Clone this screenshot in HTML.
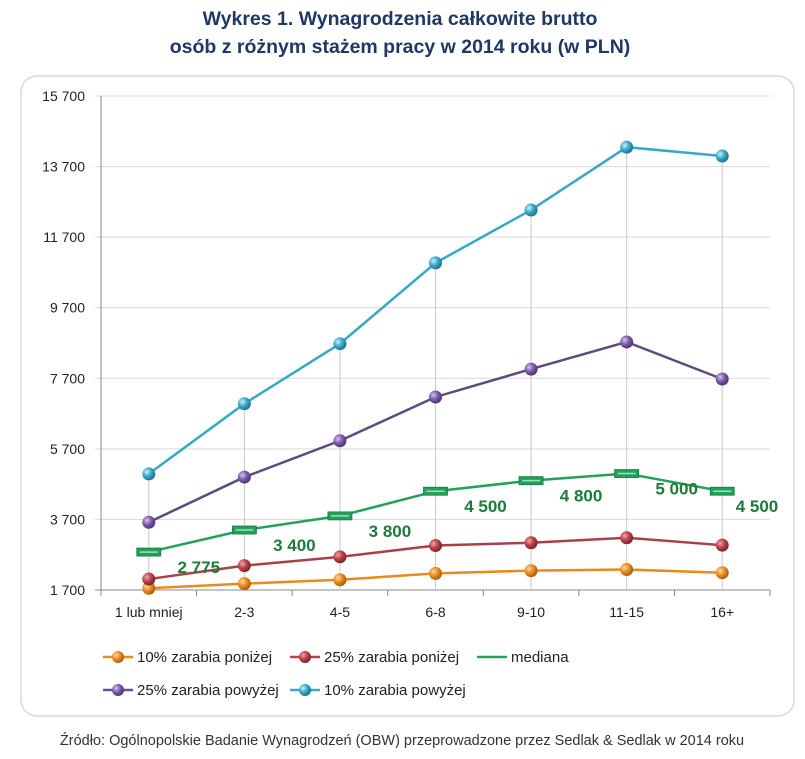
<!DOCTYPE html>
<html><head><meta charset="utf-8"><style>
body{margin:0;background:#fff;}
svg text{font-family:"Liberation Sans",sans-serif;}
</style></head><body>
<svg id="c" width="805" height="754" xmlns="http://www.w3.org/2000/svg">
<defs>
<radialGradient id="gOr" cx="35%" cy="35%" r="70%"><stop offset="0" stop-color="#ffd9a0"/><stop offset="0.5" stop-color="#e98a1e"/><stop offset="1" stop-color="#a8560a"/></radialGradient>
<radialGradient id="gRd" cx="35%" cy="35%" r="70%"><stop offset="0" stop-color="#f0a8a8"/><stop offset="0.5" stop-color="#b9404a"/><stop offset="1" stop-color="#7a1e26"/></radialGradient>
<radialGradient id="gPu" cx="35%" cy="35%" r="70%"><stop offset="0" stop-color="#d4c2ef"/><stop offset="0.5" stop-color="#7a5aab"/><stop offset="1" stop-color="#4a306e"/></radialGradient>
<radialGradient id="gCy" cx="35%" cy="35%" r="70%"><stop offset="0" stop-color="#c8f1fb"/><stop offset="0.5" stop-color="#38a8c8"/><stop offset="1" stop-color="#1c6e88"/></radialGradient>
</defs>
<text x="400" y="25" text-anchor="middle" font-size="19.5" font-weight="bold" fill="#1f3864">Wykres 1. Wynagrodzenia całkowite brutto</text>
<text x="400" y="53" text-anchor="middle" font-size="19.5" font-weight="bold" fill="#1f3864">osób z różnym stażem pracy w 2014 roku (w PLN)</text>
<rect x="21" y="76" width="773" height="640" rx="16" fill="none" stroke="#d8d8d8" stroke-width="1.5"/>
<g id="grid"></g><g id="drops"></g><g id="series"></g><g id="labels"></g>
<g font-size="15" fill="#222">
 <g><line x1="103" y1="657" x2="133" y2="657" stroke="#e98a1e" stroke-width="2.5"/><circle cx="118" cy="657" r="6" fill="url(#gOr)"/><text x="137" y="662">10% zarabia poniżej</text></g>
 <g><line x1="290" y1="657" x2="320" y2="657" stroke="#b9404a" stroke-width="2.5"/><circle cx="305" cy="657" r="6" fill="url(#gRd)"/><text x="324" y="662">25% zarabia poniżej</text></g>
 <g><line x1="477" y1="657" x2="507" y2="657" stroke="#23a05a" stroke-width="2.5"/><text x="511" y="662">mediana</text></g>
 <g><line x1="103" y1="690" x2="133" y2="690" stroke="#6a4e9a" stroke-width="2.5"/><circle cx="118" cy="690" r="6" fill="url(#gPu)"/><text x="137" y="695">25% zarabia powyżej</text></g>
 <g><line x1="290" y1="690" x2="320" y2="690" stroke="#38a8c8" stroke-width="2.5"/><circle cx="305" cy="690" r="6" fill="url(#gCy)"/><text x="324" y="695">10% zarabia powyżej</text></g>
</g>
<text x="402" y="745" text-anchor="middle" font-size="14.5" fill="#333">Źródło: Ogólnopolskie Badanie Wynagrodzeń (OBW) przeprowadzone przez Sedlak &amp; Sedlak w 2014 roku</text>
</svg>
<script>
const categories=["1 lub mniej","2-3","4-5","6-8","9-10","11-15","16+"];
const yTicks=[1700,3700,5700,7700,9700,11700,13700,15700];
const yTickLabels=["1 700","3 700","5 700","7 700","9 700","11 700","13 700","15 700"];
const below10=[1750,1880,1990,2170,2250,2280,2190];
const below25=[2010,2390,2640,2960,3040,3180,2970];
const median=[2775,3400,3800,4500,4800,5000,4500];
const medianLabels=["2 775","3 400","3 800","4 500","4 800","5 000","4 500"];
const above25=[3620,4900,5930,7170,7960,8730,7680];
const above10=[4990,6980,8680,10970,12470,14250,14000];

const NS="http://www.w3.org/2000/svg";
const L=101,R=770,T=96,B=590;
const y=v=>B-(v-1700)/(15700-1700)*(B-T);
const step=(R-L)/categories.length;
const x=i=>L+step*(i+0.5);
function mk(tag,parent,attrs){const e=document.createElementNS(NS,tag);for(const k in attrs)e.setAttribute(k,attrs[k]);document.getElementById(parent).appendChild(e);return e;}
yTicks.forEach((t,i)=>{
 const g=mk('line','grid',{x1:L-6,x2:R,y1:y(t),y2:y(t),stroke:i==0?'#888':'#d9d9d9','stroke-width':1});
 
 
 const tx=mk('text','grid',{x:L-16,y:y(t)+5,'text-anchor':'end','font-size':14,fill:'#222'});
 tx.textContent=yTickLabels[i];
 
 
});
const ax=mk('line','grid',{x1:L,x2:L,y1:T,y2:B,stroke:'#888'});


for(let i=0;i<=categories.length;i++){
 const tk=mk('line','grid',{x1:L+step*i,x2:L+step*i,y1:B,y2:B+6,stroke:'#888'});
 
 
}
categories.forEach((c,i)=>{
 const tx=mk('text','grid',{x:x(i),y:B+27,'text-anchor':'middle','font-size':14,fill:'#222'});
 tx.textContent=c;
 
 
 const d=mk('line','drops',{x1:x(i),x2:x(i),y1:y(above10[i]),y2:B,stroke:'#c8c8c8','stroke-width':1});
 
 
});
function series(vals,color,grad,name){
 const p=mk('polyline','series',{points:vals.map((v,i)=>x(i)+','+y(v)).join(' '),fill:'none',stroke:color,'stroke-width':2.5});
 
 
 vals.forEach((v,i)=>{
  if(grad){
   const c=mk('circle','series',{cx:x(i),cy:y(v),r:6.5,fill:'url(#'+grad+')'});
   
   
  }else{
   const r=mk('rect','series',{x:x(i)-12,y:y(v)-4,width:24,height:8,fill:'#23a05a',stroke:'#167a40','stroke-width':0.8});
   
   
   mk('line','series',{x1:x(i)-9,x2:x(i)+9,y1:y(v),y2:y(v),stroke:'#9fe0b8','stroke-width':1.5});
  }
 });
}
series(below10,'#e98a1e','gOr','below10');
series(below25,'#a8404a','gRd','below25');
series(median,'#23a05a',null,'median');
series(above25,'#5e4a7e','gPu','above25');
series(above10,'#38a8c8','gCy','above10');
median.forEach((v,i)=>{
 const tx=mk('text','labels',{x:Math.min(x(i)+50,757),y:y(v)+21,'text-anchor':'middle','font-size':17,'font-weight':'bold',fill:'#1e7a3a'});
 tx.textContent=medianLabels[i];
 
 
});
</script>
</body></html>
